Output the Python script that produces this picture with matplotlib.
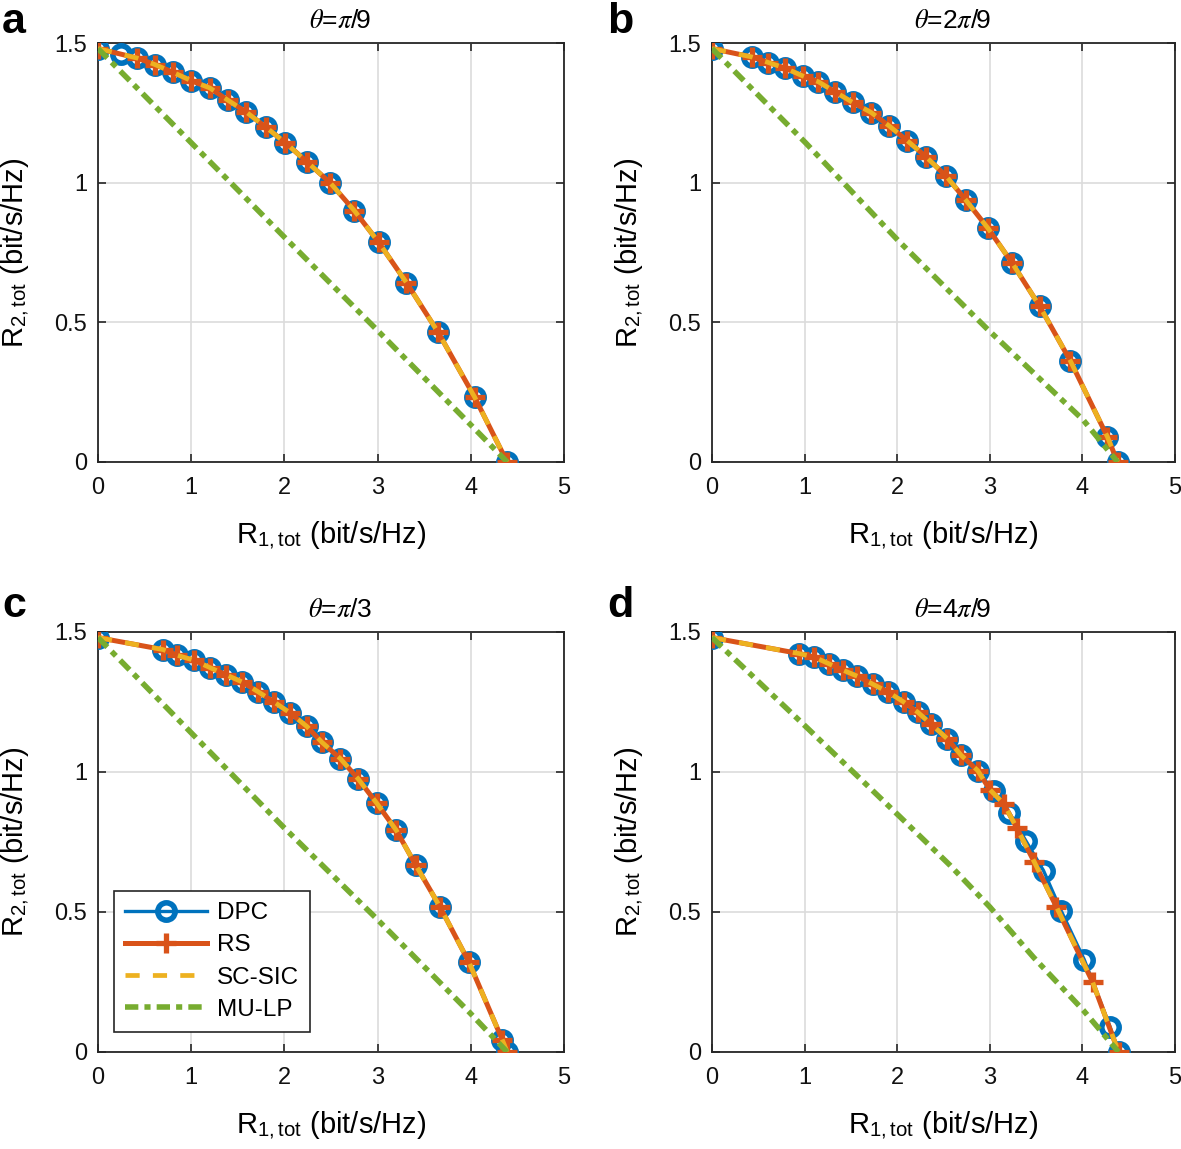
import matplotlib
matplotlib.use("Agg")
import matplotlib.pyplot as plt

plt.rcParams['font.family'] = ['Liberation Sans', 'DejaVu Sans']
plt.rcParams['mathtext.fontset'] = 'stix'

# ---------------- data ----------------
titles = [r'$\theta$=$\pi$/9', r'$\theta$=2$\pi$/9', r'$\theta$=$\pi$/3', r'$\theta$=4$\pi$/9']
panel_letters = ['a', 'b', 'c', 'd']
x_ticks = [0, 1, 2, 3, 4, 5]
y_ticks = [0, 0.5, 1, 1.5]
y_ticklabels = ['0', '0.5', '1', '1.5']
series_names = ['DPC', 'RS', 'SC-SIC', 'MU-LP']

# panel a
dpc_x_a = [0.0, 0.25, 0.42, 0.61, 0.80, 1.00, 1.20, 1.39, 1.59, 1.80, 2.01, 2.24, 2.49, 2.75, 3.01, 3.31, 3.65, 4.04, 4.39]
dpc_y_a = [1.48, 1.46, 1.446, 1.423, 1.396, 1.365, 1.339, 1.296, 1.253, 1.199, 1.143, 1.075, 1.0, 0.9, 0.787, 0.642, 0.464, 0.233, 0.0]
rs_x_a = [0.0, 0.42, 0.61, 0.80, 1.00, 1.20, 1.39, 1.59, 1.80, 2.01, 2.24, 2.49, 2.75, 3.01, 3.31, 3.65, 4.04, 4.39]
rs_y_a = [1.48, 1.446, 1.423, 1.396, 1.365, 1.339, 1.296, 1.253, 1.199, 1.143, 1.075, 1.0, 0.9, 0.787, 0.642, 0.464, 0.233, 0.0]
sic_x_a = rs_x_a
sic_y_a = rs_y_a
mulp_x_a = [0.0, 1.0, 2.0, 2.99, 4.02, 4.39]
mulp_y_a = [1.48, 1.143, 0.805, 0.474, 0.126, 0.0]

# panel b
dpc_x_b = [0.0, 0.43, 0.61, 0.79, 0.98, 1.15, 1.33, 1.52, 1.72, 1.91, 2.11, 2.31, 2.53, 2.74, 2.98, 3.24, 3.54, 3.87, 4.27, 4.38]
dpc_y_b = [1.48, 1.45, 1.43, 1.41, 1.382, 1.361, 1.325, 1.287, 1.251, 1.204, 1.15, 1.093, 1.023, 0.938, 0.837, 0.713, 0.557, 0.362, 0.09, 0.0]
rs_x_b = dpc_x_b
rs_y_b = dpc_y_b
sic_x_b = dpc_x_b
sic_y_b = dpc_y_b
mulp_x_b = [0.0, 1.01, 2.01, 2.97, 4.01, 4.38]
mulp_y_b = [1.48, 1.143, 0.793, 0.477, 0.15, 0.0]

# panel c
dpc_x_c = [0.0, 0.70, 0.85, 1.03, 1.20, 1.37, 1.55, 1.72, 1.89, 2.06, 2.24, 2.40, 2.60, 2.79, 2.99, 3.20, 3.41, 3.67, 3.98, 4.34, 4.39]
dpc_y_c = [1.48, 1.437, 1.417, 1.399, 1.373, 1.348, 1.321, 1.286, 1.25, 1.211, 1.163, 1.107, 1.048, 0.976, 0.889, 0.792, 0.667, 0.518, 0.321, 0.042, 0.0]
rs_x_c = dpc_x_c
rs_y_c = dpc_y_c
sic_x_c = dpc_x_c
sic_y_c = dpc_y_c
mulp_x_c = [0.0, 1.0, 2.0, 2.99, 3.99, 4.39]
mulp_y_c = [1.48, 1.14, 0.80, 0.476, 0.14, 0.0]

# panel d
dpc_x_d = [0.0, 0.94, 1.10, 1.26, 1.42, 1.57, 1.74, 1.90, 2.07, 2.22, 2.37, 2.54, 2.69, 2.87, 3.04, 3.21, 3.39, 3.58, 3.77, 4.02, 4.30, 4.39]
dpc_y_d = [1.48, 1.423, 1.411, 1.387, 1.363, 1.342, 1.313, 1.286, 1.25, 1.214, 1.17, 1.119, 1.06, 1.005, 0.932, 0.855, 0.754, 0.648, 0.505, 0.33, 0.089, 0.0]
rs_x_d = [0.0, 0.94, 1.10, 1.26, 1.42, 1.57, 1.74, 1.90, 2.07, 2.22, 2.37, 2.54, 2.69, 2.87, 3.00, 3.15, 3.29, 3.48, 3.72, 4.11, 4.39]
rs_y_d = [1.48, 1.423, 1.411, 1.387, 1.363, 1.342, 1.313, 1.286, 1.25, 1.214, 1.17, 1.119, 1.06, 1.005, 0.937, 0.887, 0.801, 0.679, 0.518, 0.25, 0.0]
sic_x_d = rs_x_d
sic_y_d = rs_y_d
mulp_x_d = [0.0, 1.02, 2.03, 2.57, 3.0, 3.47, 4.01, 4.39]
mulp_y_d = [1.48, 1.16, 0.84, 0.667, 0.518, 0.339, 0.149, 0.0]

panels = [
    (dpc_x_a, dpc_y_a, rs_x_a, rs_y_a, sic_x_a, sic_y_a, mulp_x_a, mulp_y_a),
    (dpc_x_b, dpc_y_b, rs_x_b, rs_y_b, sic_x_b, sic_y_b, mulp_x_b, mulp_y_b),
    (dpc_x_c, dpc_y_c, rs_x_c, rs_y_c, sic_x_c, sic_y_c, mulp_x_c, mulp_y_c),
    (dpc_x_d, dpc_y_d, rs_x_d, rs_y_d, sic_x_d, sic_y_d, mulp_x_d, mulp_y_d),
]

# ---------------- style ----------------
C_BLUE = '#0072BD'
C_ORANGE = '#D95319'
C_YELLOW = '#EDB120'
C_GREEN = '#77AC30'

W, H = 1181, 1149
fig = plt.figure(figsize=(W / 100, H / 100), dpi=100)

# axes boxes in pixels: (left, top, right, bottom)
boxes = [(98, 43, 564, 462), (712, 43, 1175, 462),
         (98, 632, 564, 1052), (712, 632, 1175, 1052)]
letter_pos = [(14, 22), (620, 22), (14, 606), (620, 606)]

for i, (box, data) in enumerate(zip(boxes, panels)):
    l, t, r, b = box
    ax = fig.add_axes([l / W, 1 - b / H, (r - l) / W, (b - t) / H])
    dx, dy, rx, ry, sx, sy, mx, my = data
    ax.plot(dx, dy, '-', color=C_BLUE, lw=2.4, marker='o', ms=12.5,
            mfc='none', mec=C_BLUE, mew=4.0, label=series_names[0], zorder=3)
    ax.plot(rx, ry, '-', color=C_ORANGE, lw=3.6, marker='+', ms=14.5,
            mew=3.8, mec=C_ORANGE, label=series_names[1], zorder=4)
    ax.plot(sx, sy, color=C_YELLOW, lw=3.4, linestyle=(0, (3.0, 2.8)),
            label=series_names[2], zorder=5)
    ax.plot(mx, my, color=C_GREEN, lw=4.0, linestyle=(0, (2.4, 1.1, 1.1, 1.1)),
            label=series_names[3], zorder=6)

    ax.set_xlim(0, 5)
    ax.set_ylim(0, 1.5)
    ax.set_xticks(x_ticks)
    ax.set_yticks(y_ticks)
    ax.set_yticklabels(y_ticklabels)
    ax.grid(True, color='#dcdcdc', lw=1.2)
    ax.set_axisbelow(True)
    ax.tick_params(direction='in', length=6, width=1.2, top=True, right=True,
                   labelsize=17, colors='#262626')
    ax.tick_params(axis='x', pad=11)
    ax.tick_params(axis='y', pad=8)
    for sp in ax.spines.values():
        sp.set_color('#262626')
        sp.set_linewidth(1.3)
    for lab in ax.get_xticklabels() + ax.get_yticklabels():
        lab.set_color('#111111')

    ax.set_xlabel(r'R$_{\mathregular{1,tot}}$ (bit/s/Hz)', fontsize=21, labelpad=15)
    ax.set_ylabel(r'R$_{\mathregular{2,tot}}$ (bit/s/Hz)', fontsize=21, labelpad=16)
    ax.set_title(titles[i], fontsize=19, pad=11, x=0.52)

    lx, ly = letter_pos[i]
    fig.text(lx / W, 1 - ly / H, panel_letters[i], fontsize=31, fontweight='bold',
             ha='center', va='center')

    if i == 2:
        leg = ax.legend(loc='lower left', bbox_to_anchor=(0.034, 0.048),
                        fontsize=17.5, handlelength=3.4, handletextpad=0.4,
                        labelspacing=0.42, borderpad=0.45, fancybox=False,
                        framealpha=1, edgecolor='#262626', numpoints=1,
                        borderaxespad=0)
        leg.get_frame().set_linewidth(1.2)

fig.savefig('out.png', dpi=100)
